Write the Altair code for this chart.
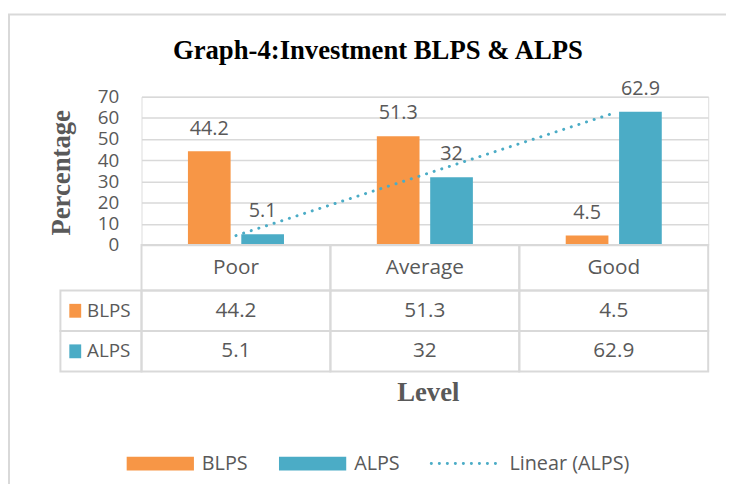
import altair as alt
import numpy as np
import pandas as pd

# ---------------- data ----------------
levels = ["Poor", "Average", "Good"]
series_names = ["BLPS", "ALPS"]
blps = [44.2, 51.3, 4.5]
alps = [5.1, 32.0, 62.9]
y_ticks = [0, 10, 20, 30, 40, 50, 60, 70]

title_text = "Graph-4:Investment BLPS & ALPS"
y_title = "Percentage"
x_title = "Level"
trend_label = "Linear (ALPS)"

# ---------------- style ----------------
ORANGE = "#F79646"
BLUE = "#4BACC6"
GRID = "#D9D9D9"
TEXT = "#595959"
SANS = "Open Sans"
SERIF = "Liberation Serif"
W, H = 573, 150

long = pd.DataFrame({
    "level": levels * 2,
    "series": ["BLPS"] * len(levels) + ["ALPS"] * len(levels),
    "value": blps + alps,
})

# linear trend line of ALPS (least squares over category index)
idx = np.arange(len(levels))
coef = np.polyfit(idx, alps, 1)
trend = pd.DataFrame({"level": levels, "value": np.polyval(coef, idx)})

x_enc = alt.X("level:N", sort=levels,
              scale=alt.Scale(domain=levels, paddingInner=0, paddingOuter=0),
              axis=None)
xoff_enc = alt.XOffset("series:N", sort=series_names,
                       scale=alt.Scale(domain=series_names, paddingInner=0.2, paddingOuter=0.87))
y_axis = alt.Axis(values=y_ticks, grid=True, gridColor=GRID, gridWidth=1.5,
                  domain=False, ticks=False, tickSize=0, labelPadding=23,
                  labelFont=SANS, labelFontSize=19, labelColor=TEXT, title=None)
y_enc = alt.Y("value:Q", scale=alt.Scale(domain=[0, 70], nice=False), axis=y_axis)
color_enc = alt.Color("series:N", scale=alt.Scale(domain=series_names, range=[ORANGE, BLUE]),
                      legend=None)

one = pd.DataFrame({"k": [0]})
layers = []

# outer frame
layers.append(alt.Chart(one).mark_rect(fillOpacity=0, stroke=GRID, strokeWidth=2).encode(
    x=alt.value(-134), y=alt.value(-83), x2=alt.value(800), y2=alt.value(600)))

# bars
layers.append(alt.Chart(long).mark_bar().encode(x=x_enc, xOffset=xoff_enc, y=y_enc, color=color_enc))

# bar labels
layers.append(alt.Chart(long).mark_text(dy=-17, baseline="alphabetic", font=SANS, fontSize=20,
                                        color=TEXT).encode(
    x=x_enc, xOffset=xoff_enc, y=y_enc, text=alt.Text("value:Q", format="~g")))

# trend line
layers.append(alt.Chart(trend).mark_line(color=BLUE, strokeWidth=3, strokeDash=[0.1, 8],
                                         strokeCap="round").encode(x=x_enc, y=y_enc))

# ---------------- data table ----------------
hdr = pd.DataFrame({"level": levels})
layers.append(alt.Chart(hdr).mark_rect(fillOpacity=0, stroke=GRID, strokeWidth=2).encode(
    x=x_enc, y=alt.value(150), y2=alt.value(196)))
layers.append(alt.Chart(hdr).mark_text(font=SANS, fontSize=21, color=TEXT, baseline="middle").encode(
    x=x_enc, y=alt.value(173), text="level:N"))

row_top = 196
row_h = 41
for i, name in enumerate(series_names):
    y0 = row_top + i * row_h
    y1 = y0 + row_h
    mid = (y0 + y1) / 2
    base = alt.Chart(long).transform_filter(alt.datum.series == name)
    layers.append(base.mark_rect(fillOpacity=0, stroke=GRID, strokeWidth=2).encode(
        x=x_enc, y=alt.value(y0), y2=alt.value(y1)))
    layers.append(base.mark_text(font=SANS, fontSize=21, color=TEXT, baseline="middle").encode(
        x=x_enc, y=alt.value(mid), text=alt.Text("value:Q", format="~g")))
    lab = alt.Chart(pd.DataFrame({"series": [name]}))
    layers.append(lab.mark_rect(fillOpacity=0, stroke=GRID, strokeWidth=2).encode(
        x=alt.value(-82), x2=alt.value(0), y=alt.value(y0), y2=alt.value(y1)))
    layers.append(lab.mark_rect().encode(
        x=alt.value(-73), x2=alt.value(-61), y=alt.value(mid - 7), y2=alt.value(mid + 7),
        color=color_enc))
    layers.append(lab.mark_text(font=SANS, fontSize=19, color=TEXT, align="left",
                                baseline="middle").encode(
        x=alt.value(-55), y=alt.value(mid), text="series:N"))

# ---------------- titles ----------------
layers.append(alt.Chart(pd.DataFrame({"t": [title_text]})).mark_text(
    font=SERIF, fontSize=27, fontWeight="bold", color="#000000", align="center",
    baseline="alphabetic").encode(x=alt.value(239), y=alt.value(-38), text="t:N"))
layers.append(alt.Chart(pd.DataFrame({"t": [y_title]})).mark_text(
    font=SERIF, fontSize=27, fontWeight="bold", color=TEXT, align="center",
    baseline="alphabetic", angle=270).encode(x=alt.value(-72), y=alt.value(77), text="t:N"))
layers.append(alt.Chart(pd.DataFrame({"t": [x_title]})).mark_text(
    font=SERIF, fontSize=27, fontWeight="bold", color=TEXT, align="center",
    baseline="alphabetic").encode(x=alt.value(290), y=alt.value(308), text="t:N"))

# ---------------- legend ----------------
leg_y = 371
for name, col, x0, tx in [("BLPS", ORANGE, -15, 61), ("ALPS", BLUE, 139, 215)]:
    ld = alt.Chart(pd.DataFrame({"series": [name]}))
    layers.append(ld.mark_rect(color=col).encode(
        x=alt.value(x0), x2=alt.value(x0 + 68), y=alt.value(leg_y - 7), y2=alt.value(leg_y + 7)))
    layers.append(ld.mark_text(font=SANS, fontSize=20, color=TEXT, align="left",
                               baseline="middle").encode(
        x=alt.value(tx), y=alt.value(leg_y + 1), text="series:N"))
layers.append(alt.Chart(one).mark_rule(color=BLUE, strokeWidth=3, strokeDash=[0.1, 8],
                                       strokeCap="round").encode(
    x=alt.value(293), x2=alt.value(362), y=alt.value(leg_y)))
layers.append(alt.Chart(pd.DataFrame({"t": [trend_label]})).mark_text(
    font=SANS, fontSize=20, color=TEXT, align="left", baseline="middle").encode(
    x=alt.value(372), y=alt.value(leg_y + 1), text="t:N"))

chart = alt.layer(*layers).properties(
    width=W, height=H,
    autosize=alt.AutoSizeParams(type="none"),
    padding={"left": 135, "top": 87, "right": 18, "bottom": 239},
).configure_view(strokeWidth=0).configure(background="white")

chart.save("out.html", embed_options={"renderer": "svg", "actions": False})
